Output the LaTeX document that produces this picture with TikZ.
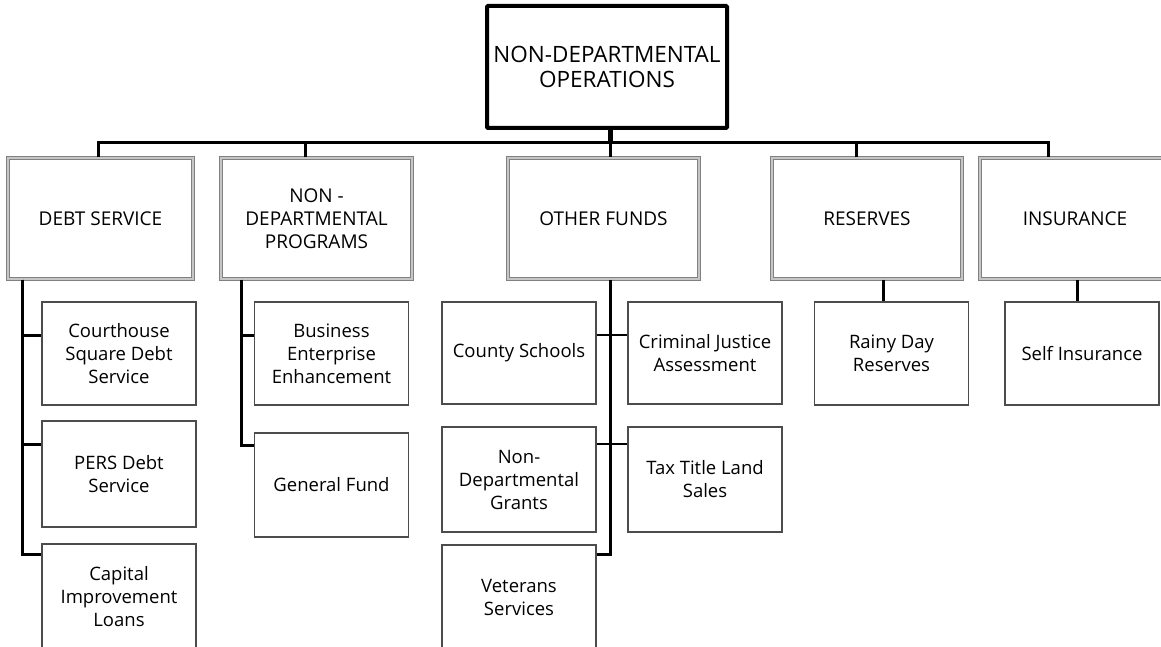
\documentclass[tikz,border=0pt]{standalone}
\usepackage{fontspec}
\setmainfont{Open Sans}
\begin{document}
\begin{tikzpicture}[x=1pt,y=-1pt,
  top node/.style={draw=black,line width=4pt,rounded corners=1pt,inner sep=0pt,
    minimum width=240pt,minimum height=122pt,align=center,text=black,
    font=\fontsize{22.5}{25}\selectfont},
  head node/.style={draw=gray,line width=1.2pt,double=gray!45,double distance=1.2pt,
    inner sep=0pt,minimum height=121pt,align=center,text=black,
    font=\fontsize{19}{23}\selectfont},
  leaf node/.style={draw=black!70,line width=1.8pt,inner sep=0pt,minimum width=154pt,
    align=center,text=black,font=\fontsize{18.5}{23}\selectfont},
  bus/.style={line width=3pt},
  stub/.style={line width=5pt},
  spine/.style={line width=3pt},
  branch/.style={line width=2.5pt}]

  \useasboundingbox (0,0) rectangle (1161,647);
  \clip (0,0) rectangle (1161,647);

  \node[top node] (top) at (607,67) {NON-DEPARTMENTAL\\OPERATIONS};

  \node[head node,minimum width=185pt] (ds) at (100.5,218.5) {DEBT SERVICE};
  \node[head node,minimum width=191pt] (np) at (316.5,218.5) {NON -\\DEPARTMENTAL\\PROGRAMS};
  \node[head node,minimum width=191pt] (of) at (603.5,218.5) {OTHER FUNDS};
  \node[head node,minimum width=190pt] (res) at (867,218.5) {RESERVES};
  \node[head node,minimum width=190pt] (ins) at (1075,218.5) {INSURANCE};

  \node[leaf node,minimum height=103pt] (ch) at (119,353.5) {Courthouse\\Square Debt\\Service};
  \node[leaf node,minimum height=106pt] (pers) at (119,474) {PERS Debt\\Service};
  \node[leaf node,minimum height=106pt] (cap) at (119,597) {Capital\\Improvement\\Loans};
  \node[leaf node,minimum height=103pt] (bee) at (331.5,353.5) {Business\\Enterprise\\Enhancement};
  \node[leaf node,minimum height=104pt] (gf) at (331.5,485) {General Fund};
  \node[leaf node,minimum height=102pt] (cs) at (519,353) {County Schools};
  \node[leaf node,minimum height=102pt] (cja) at (705,353) {Criminal Justice\\Assessment};
  \node[leaf node,minimum height=105pt] (ndg) at (519,479.5) {Non-\\Departmental\\Grants};
  \node[leaf node,minimum height=105pt] (ttl) at (705,479.5) {Tax Title Land\\Sales};
  \node[leaf node,minimum height=105pt] (vs) at (519,597.5) {Veterans\\Services};
  \node[leaf node,minimum height=103pt] (rd) at (891.5,353.5) {Rainy Day\\Reserves};
  \node[leaf node,minimum height=103pt] (si) at (1082,353.5) {Self Insurance};

  \coordinate (hub) at (610,143);

  % top level
  \draw[stub] (top.south -| hub) -- (hub);
  \draw[bus] ([xshift=-2.5]ds.north) |- (hub) -| ([xshift=-27]ins.north);
  \draw[bus] ([xshift=-11.5]np.north) |- (hub);
  \draw[bus] ([xshift=-11]res.north) |- (hub);
  \draw[bus] (hub) -- (hub |- of.north);

  % debt service
  \draw[spine] ([xshift=15]ds.south west) |- ([yshift=-34]ch.north west);
  \draw[spine] ([xshift=15]ds.south west) |- ([yshift=-24]pers.north west);
  \draw[spine] ([xshift=15]ds.south west) |- ([yshift=-11]cap.north west);

  % non-departmental programs
  \draw[spine] ([xshift=21]np.south west) |- ([yshift=-34]bee.north west);
  \draw[spine] ([xshift=21]np.south west) |- ([yshift=-13]gf.north west);

  % other funds
  \draw[spine] (of.south -| hub) |- ([yshift=-10]vs.north east);
  \draw[branch] ([yshift=-34]cs.north east) -- ([yshift=-34]cja.north west);
  \draw[branch] ([yshift=-18]ndg.north east) -- ([yshift=-18]ttl.north west);

  % reserves and insurance
  \draw[spine] ([xshift=-8.5]rd.north |- res.south) -- ([xshift=-8.5]rd.north);
  \draw[spine] ([xshift=-5]si.north |- ins.south) -- ([xshift=-5]si.north);
\end{tikzpicture}
\end{document}
